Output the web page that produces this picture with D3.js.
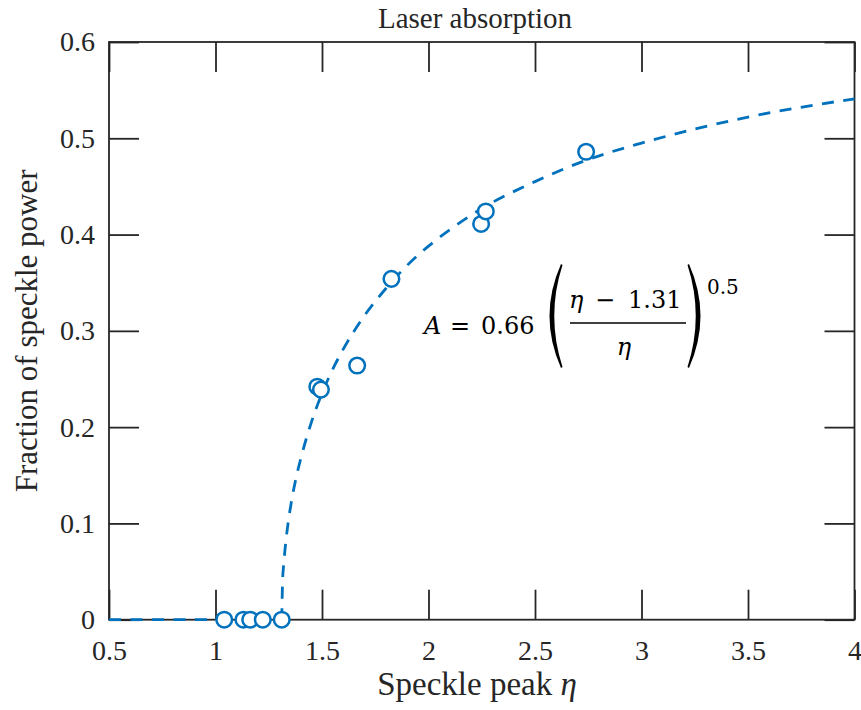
<!DOCTYPE html>
<html>
<head>
<meta charset="utf-8">
<script src="https://cdn.jsdelivr.net/npm/d3@7"></script>
<style>
  body { margin: 0; background: #fff; }
  text { font-family: "Liberation Serif", serif; fill: #262626; }
</style>
</head>
<body>
<div id="chart"></div>
<script>
// measured points
const etaData = [1.041, 1.131, 1.163, 1.222, 1.311, 1.478, 1.495, 1.665, 1.826, 2.247, 2.269, 2.74];
const absData = [0, 0, 0, 0, 0, 0.242, 0.239, 0.264, 0.354, 0.411, 0.424, 0.486];

// fitted curve
const fitEta = [0.5, 1.31, 1.315, 1.32, 1.33, 1.34, 1.36, 1.38, 1.4, 1.45, 1.5, 1.55, 1.6, 1.7, 1.8, 1.9, 2.0, 2.1, 2.25, 2.5, 2.75, 3.0, 3.5, 4.0];
const fitA = [0, 0, 0.041, 0.057, 0.081, 0.099, 0.127, 0.149, 0.167, 0.205, 0.235, 0.260, 0.281, 0.316, 0.344, 0.368, 0.388, 0.405, 0.427, 0.455, 0.478, 0.495, 0.522, 0.541];

const xTicks = [0.5, 1, 1.5, 2, 2.5, 3, 3.5, 4];
const xTickLabels = ["0.5", "1", "1.5", "2", "2.5", "3", "3.5", "4"];
const yTicks = [0, 0.1, 0.2, 0.3, 0.4, 0.5, 0.6];
const yTickLabels = ["0", "0.1", "0.2", "0.3", "0.4", "0.5", "0.6"];

const margin = {top: 42, right: 6.5, bottom: 90.3, left: 109},
    width = 861 - margin.left - margin.right,
    height = 710 - margin.top - margin.bottom;

const blue = "#0072BD", axisColor = "#262626";
const serif = "Liberation Serif", mathFont = "DejaVu Serif";

const svgRoot = d3.select("#chart").append("svg")
    .attr("width", 861)
    .attr("height", 710);
const svg = svgRoot.append("g")
    .attr("transform", `translate(${margin.left}, ${margin.top})`);

const x = d3.scaleLinear().domain([0.5, 4]).range([0, width]);
const y = d3.scaleLinear().domain([0, 0.6]).range([height, 0]);

// axes, ticks pointing inward on all four sides
const axBottom = svg.append("g")
    .attr("transform", `translate(0, ${height})`)
    .call(d3.axisBottom(x).tickValues(xTicks).tickFormat((d, i) => xTickLabels[i])
        .tickSizeInner(-30).tickSizeOuter(0).tickPadding(20));
const axLeft = svg.append("g")
    .call(d3.axisLeft(y).tickValues(yTicks).tickFormat((d, i) => yTickLabels[i])
        .tickSizeInner(-30).tickSizeOuter(0).tickPadding(14));
const axTop = svg.append("g")
    .call(d3.axisTop(x).tickValues(xTicks).tickFormat("").tickSizeInner(-30).tickSizeOuter(0));
const axRight = svg.append("g")
    .attr("transform", `translate(${width}, 0)`)
    .call(d3.axisRight(y).tickValues(yTicks).tickFormat("").tickSizeInner(-30).tickSizeOuter(0));

[axBottom, axLeft, axTop, axRight].forEach(g => {
  g.attr("font-family", serif).attr("font-size", 28);
  g.select(".domain").remove();
  g.selectAll(".tick line").attr("stroke", axisColor).attr("stroke-width", 1.8);
  g.selectAll(".tick text")
    .attr("font-family", serif)
    .style("font-family", serif)
    .attr("font-size", 28)
    .attr("fill", axisColor);
});

svg.append("rect")
    .attr("width", width)
    .attr("height", height)
    .attr("fill", "none")
    .attr("stroke", axisColor)
    .attr("stroke-width", 1.8);

// fit line
const line = d3.line()
    .x((d, i) => x(fitEta[i]))
    .y((d, i) => y(fitA[i]))
    .curve(d3.curveMonotoneX);

svg.append("path")
    .datum(fitA)
    .attr("d", line)
    .attr("fill", "none")
    .attr("stroke", blue)
    .attr("stroke-width", 2.8)
    .attr("stroke-dasharray", "12,9.5");

// markers
svg.selectAll("circle.pt")
  .data(etaData)
  .enter()
  .append("circle")
    .attr("class", "pt")
    .attr("cx", d => x(d))
    .attr("cy", (d, i) => y(absData[i]))
    .attr("r", 7.8)
    .attr("fill", "#fff")
    .attr("stroke", blue)
    .attr("stroke-width", 2.5);

// title and labels
svgRoot.append("text")
    .attr("x", 475)
    .attr("y", 28)
    .attr("text-anchor", "middle")
    .attr("font-family", serif)
    .attr("font-size", 29)
    .text("Laser absorption");

const xl = svgRoot.append("text")
    .attr("x", 477)
    .attr("y", 695)
    .attr("text-anchor", "middle")
    .attr("font-family", serif)
    .attr("font-size", 33);
xl.append("tspan").text("Speckle peak ");
xl.append("tspan").style("font-style", "italic").text("η");

svgRoot.append("text")
    .attr("transform", `translate(37, ${margin.top + height / 2}) rotate(-90)`)
    .attr("text-anchor", "middle")
    .attr("font-family", serif)
    .attr("font-size", 31)
    .text("Fraction of speckle power");

// formula annotation
const eq = svgRoot.append("g");
function eqText(tx, ty, str, size, italic, anchor) {
  return eq.append("text")
      .attr("x", tx).attr("y", ty)
      .attr("font-family", mathFont)
      .style("font-family", mathFont)
      .attr("font-size", size)
      .attr("font-style", italic ? "italic" : "normal")
      .attr("text-anchor", anchor || "start")
      .attr("fill", "#000")
      .style("fill", "#000")
      .text(str);
}
eqText(424, 334, "A", 24, true);
eqText(450, 334, "=", 24, false);
eqText(481, 334, "0.66", 24, false);
eqText(569, 308, "η", 24, true);
eqText(595, 308, "−", 24, false);
eqText(628, 308, "1.31", 24, false);
eq.append("line").attr("x1", 570).attr("x2", 686).attr("y1", 323).attr("y2", 323)
    .attr("stroke", "#000").attr("stroke-width", 1.5);
eqText(624, 355, "η", 24, true, "middle");
// big parentheses as tapered crescents
eq.append("path").attr("d", "M561,264 Q538,316 561,368 L562.5,367 Q546,316 562.5,265 Z")
    .attr("fill", "#000");
eq.append("path").attr("d", "M689,264 Q712,316 689,368 L687.5,367 Q704,316 687.5,265 Z")
    .attr("fill", "#000");
eqText(707, 294, "0.5", 20, false);
</script>
</body>
</html>
